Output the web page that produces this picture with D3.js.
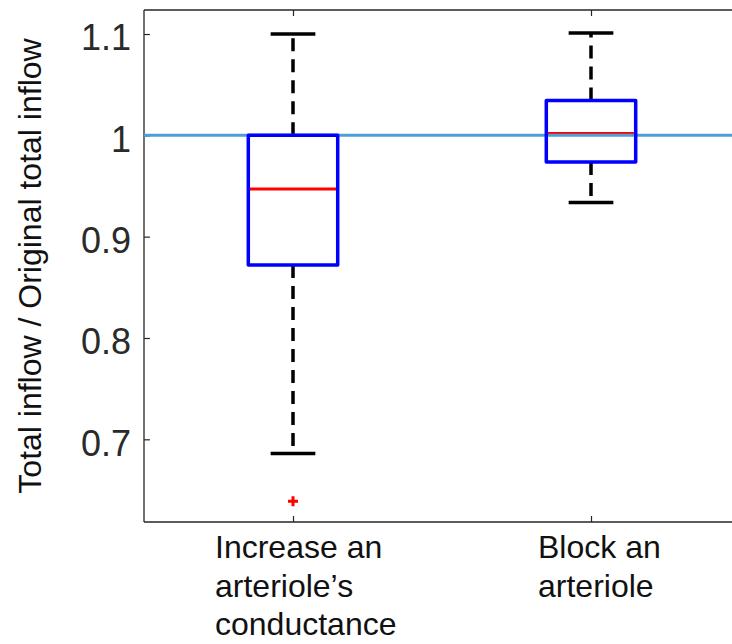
<!DOCTYPE html>
<html>
<head>
<meta charset="utf-8">
<script src="https://cdn.jsdelivr.net/npm/d3@7"></script>
<style>
  html, body { margin: 0; padding: 0; background: #fff; overflow: hidden; }
  svg { display: block; }
  text { font-family: "Liberation Sans", Arial, sans-serif; }
</style>
</head>
<body>
<svg id="chart" width="732" height="644"></svg>
<script>
// ---- data ----
const categories = ["Increase an arteriole’s conductance", "Block an arteriole"];
const categoryLines = [["Increase an", "arteriole’s", "conductance"], ["Block an", "arteriole"]];
const whiskerHigh = [1.100, 1.101];
const q3Values    = [1.000, 1.0345];
const medians     = [0.947, 1.0017];
const q1Values    = [0.872, 0.9737];
const whiskerLow  = [0.686, 0.9336];
const outliers    = [[0.639], []];
const yTicks      = [0.7, 0.8, 0.9, 1.0, 1.1];
const yTickLabels = ["0.7", "0.8", "0.9", "1", "1.1"];
const referenceValue = 1.0;
const yLabel = "Total inflow / Original total inflow";

// ---- layout ----
const svg = d3.select("#chart");
const pL = 144, pR = 740, pT = 10, pB = 522;
const axisColor = "#262626";

const x = d3.scaleLinear().domain([0.5, 2.5]).range([pL, pR]);
const y = d3.scaleLinear().domain([0.6184, 1.1237]).range([pB, pT]);

// axes box lines
const axG = svg.append("g");
axG.append("line").attr("x1", pL).attr("x2", pR).attr("y1", pB).attr("y2", pB)
  .attr("stroke", axisColor).attr("stroke-width", 1.3);
axG.append("line").attr("x1", pL).attr("x2", pR).attr("y1", pT).attr("y2", pT)
  .attr("stroke", axisColor).attr("stroke-width", 1.3);
axG.append("line").attr("x1", pL).attr("x2", pL).attr("y1", pT).attr("y2", pB)
  .attr("stroke", axisColor).attr("stroke-width", 1.3);

// y axis ticks and labels
const yAxis = d3.axisLeft(y).tickValues(yTicks)
  .tickFormat((d, i) => yTickLabels[i]).tickSize(-6).tickPadding(13);
const yg = svg.append("g").attr("transform", `translate(${pL},0)`).call(yAxis);
yg.select(".domain").remove();
yg.selectAll(".tick line").attr("stroke", axisColor).attr("stroke-width", 1.2);
yg.selectAll(".tick text").attr("fill", "#2a2a2a").attr("dy", "0.44em")
  .style("font-size", "36px")
  .style("font-family", "'Liberation Sans', Arial, sans-serif");

// x ticks (bottom and top, inward)
const idx = categories.map((c, i) => i + 1);
const xb = d3.axisBottom(x).tickValues(idx).tickFormat("").tickSize(-6);
const xbg = svg.append("g").attr("transform", `translate(0,${pB})`).call(xb);
xbg.select(".domain").remove();
xbg.selectAll(".tick line").attr("stroke", axisColor).attr("stroke-width", 1.2);
const xt = d3.axisTop(x).tickValues(idx).tickFormat("").tickSize(-6);
const xtg = svg.append("g").attr("transform", `translate(0,${pT})`).call(xt);
xtg.select(".domain").remove();
xtg.selectAll(".tick line").attr("stroke", axisColor).attr("stroke-width", 1.2);

// category labels (left-aligned blocks)
const labelOffsets = [-78, -53];
categoryLines.forEach((lines, i) => {
  const t = svg.append("text")
    .attr("x", x(i + 1) + labelOffsets[i])
    .attr("y", 558)
    .attr("fill", "#111")
    .style("font-size", "32px");
  lines.forEach((ln, j) => {
    t.append("tspan").attr("x", x(i + 1) + labelOffsets[i]).attr("dy", j === 0 ? 0 : 38.5).text(ln);
  });
});

// y axis label
svg.append("text")
  .attr("transform", `translate(41,${(pT + pB) / 2}) rotate(-90)`)
  .attr("text-anchor", "middle")
  .attr("fill", "#111")
  .style("font-size", "32px")
  .text(yLabel);

// ---- boxplots ----
const boxHalf = 0.15, capHalf = 0.075;
const g = svg.append("g");

categories.forEach((c, i) => {
  const cx = x(i + 1);
  g.append("line").attr("x1", cx).attr("x2", cx)
    .attr("y1", y(q3Values[i])).attr("y2", y(whiskerHigh[i]))
    .attr("stroke", "#000").attr("stroke-width", 3.5).attr("stroke-dasharray", "13,8");
  g.append("line").attr("x1", cx).attr("x2", cx)
    .attr("y1", y(q1Values[i])).attr("y2", y(whiskerLow[i]))
    .attr("stroke", "#000").attr("stroke-width", 3.5).attr("stroke-dasharray", "13,8");
  [whiskerHigh[i], whiskerLow[i]].forEach(v => {
    g.append("line").attr("x1", x(i + 1 - capHalf)).attr("x2", x(i + 1 + capHalf))
      .attr("y1", y(v)).attr("y2", y(v))
      .attr("stroke", "#000").attr("stroke-width", 3.5);
  });
  g.append("line").attr("x1", x(i + 1 - boxHalf)).attr("x2", x(i + 1 + boxHalf))
    .attr("y1", y(medians[i])).attr("y2", y(medians[i]))
    .attr("stroke", "#ff0000").attr("stroke-width", 3);
  outliers[i].forEach(v => {
    g.append("path")
      .attr("d", `M${cx - 5},${y(v)}H${cx + 5}M${cx},${y(v) - 5}V${y(v) + 5}`)
      .attr("stroke", "#ff0000").attr("stroke-width", 3);
  });
});

// reference line
svg.append("line").attr("x1", pL).attr("x2", pR)
  .attr("y1", y(referenceValue)).attr("y2", y(referenceValue))
  .attr("stroke", "#4d9fd8").attr("stroke-width", 3);

// boxes on top
categories.forEach((c, i) => {
  svg.append("rect")
    .attr("x", x(i + 1 - boxHalf)).attr("y", y(q3Values[i]))
    .attr("width", x(i + 1 + boxHalf) - x(i + 1 - boxHalf))
    .attr("height", y(q1Values[i]) - y(q3Values[i]))
    .attr("fill", "none").attr("stroke", "#0000ff").attr("stroke-width", 3.5)
    .attr("stroke-linejoin", "round");
});
</script>
</body>
</html>
